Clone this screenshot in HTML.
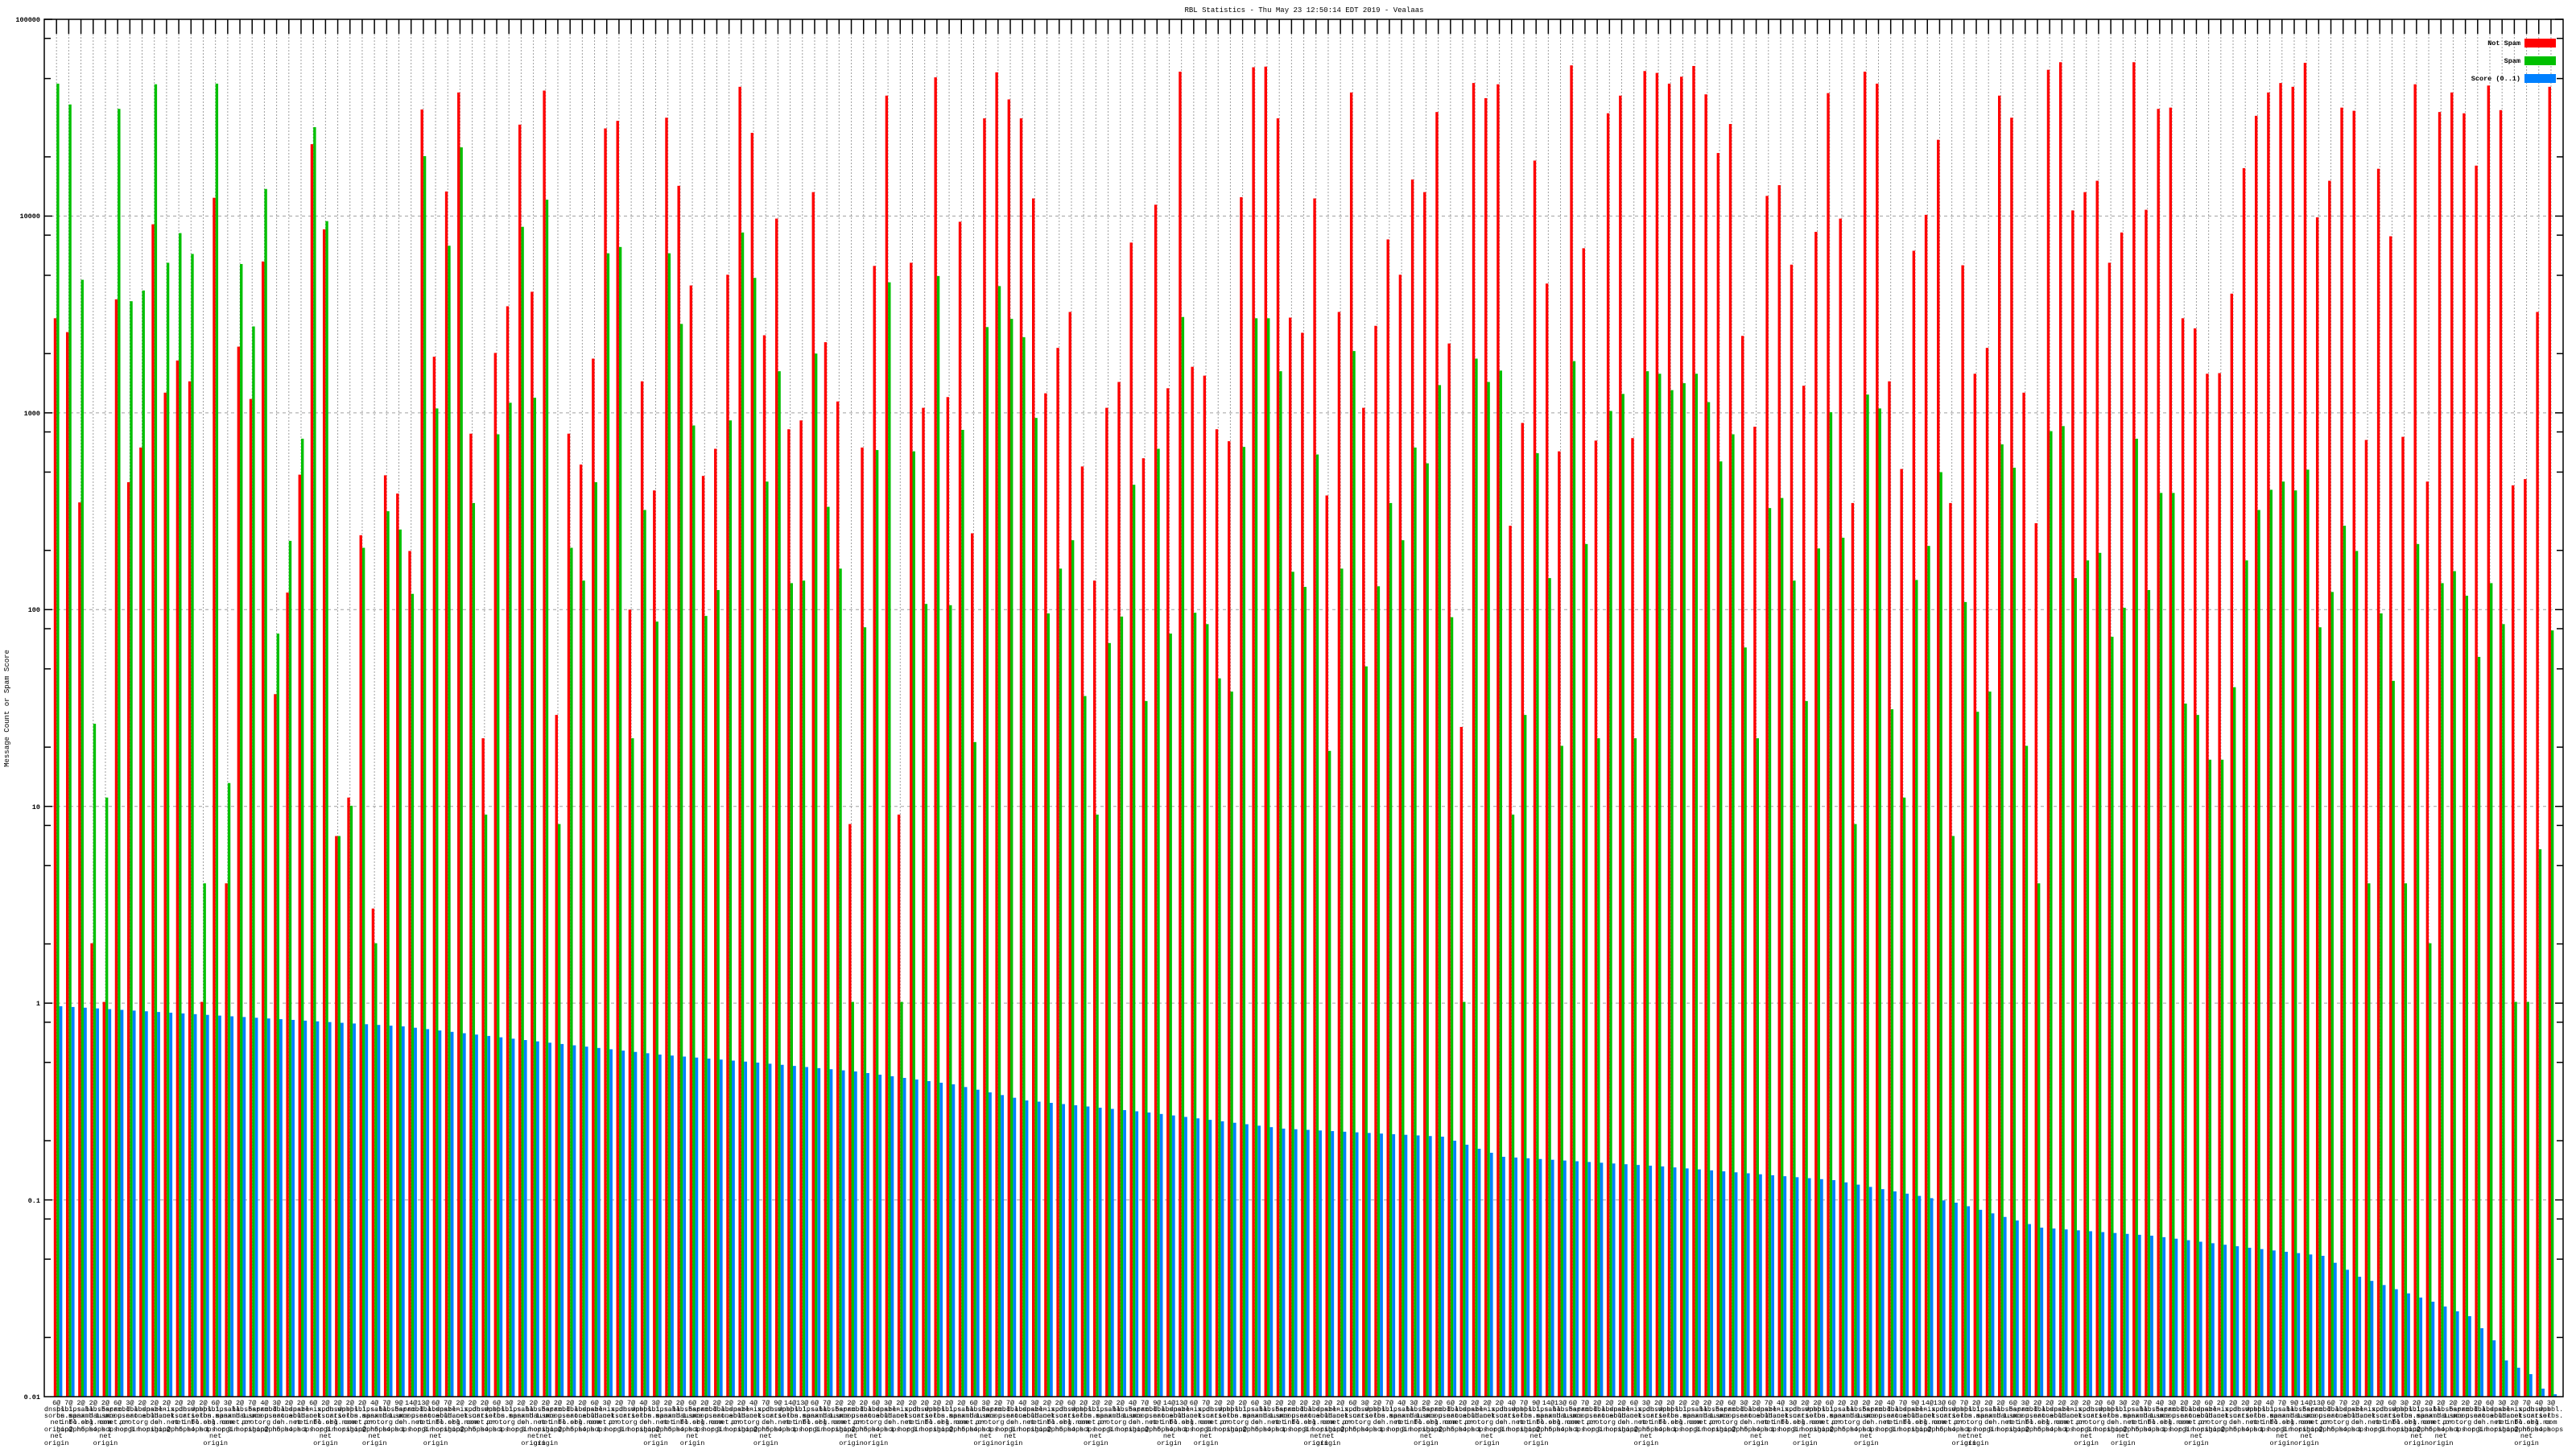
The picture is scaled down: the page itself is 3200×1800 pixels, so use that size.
<!DOCTYPE html>
<html><head><meta charset="utf-8">
<style>html,body{margin:0;padding:0;background:#fff;}svg{display:block;}</style>
</head><body>
<svg id="c" xmlns="http://www.w3.org/2000/svg" width="3200" height="1800" viewBox="0 0 3200 1800">
<rect x="0" y="0" width="3200" height="1800" fill="#fff"/>
<g id="grid"></g>
<g id="bars"></g>
<g id="ticks" stroke="#000" stroke-width="1.5"></g>
<rect x="55" y="24" width="3129" height="1711" fill="none" stroke="#000" stroke-width="1.5"/>
<text x="1620" y="15" font-family="Liberation Mono, monospace" font-size="9" text-anchor="middle" fill="#000">RBL Statistics - Thu May 23 12:50:14 EDT 2019 - Vealaas</text>
<text transform="translate(11,880) rotate(-90)" font-family="Liberation Mono, monospace" font-size="9" text-anchor="middle" fill="#000">Message Count or Spam Score</text>
<g font-family="Liberation Mono, monospace" font-size="8.5" font-weight="bold" text-anchor="end" fill="#000">
<text x="50" y="27">100000</text>
<text x="50" y="271">10000</text>
<text x="50" y="516">1000</text>
<text x="50" y="760">100</text>
<text x="50" y="1005">10</text>
<text x="50" y="1249">1</text>
<text x="50" y="1494">0.1</text>
<text x="50" y="1738">0.01</text>
<text x="3131" y="56">Not Spam</text>
<text x="3131" y="78">Spam</text>
<text x="3131" y="100">Score (0..1)</text>
</g>
<rect x="3136" y="48" width="39" height="11" fill="#ff0000"/>
<rect x="3136" y="70" width="39" height="11" fill="#00c000"/>
<rect x="3136" y="92" width="39" height="11" fill="#0080ff"/>
<g id="xl" font-family="Liberation Mono, monospace" font-size="8.5" text-anchor="middle" fill="#000"></g>
</svg>
<script>
var R=[474,496,766,1465,1558,444,734,679,325,592,541,574,1558,283,1370,519,602,384,1070,909,722,198,333,1295,1234,818,1410,723,752,843,
143,535,273,116,657,1140,529,455,167,432,113,1103,657,706,538,173,161,936,574,747,156,264,422,724,681,405,107,180,501,316,
650,636,274,512,606,1276,679,391,121,1261,386,616,92,599,321,815,157,84,127,157,284,593,521,464,709,890,616,575,354,696,
294,585,83,551,565,650,669,282,76,75,157,473,497,284,755,464,116,616,486,349,405,254,274,147,514,1122,101,125,103,803,
640,224,419,685,73,363,668,149,121,664,82,85,102,91,74,119,212,166,502,646,280,263,389,581,337,117,316,767,83,102,
574,713,367,310,191,767,390,562,521,121,156,592,799,80,68,303,274,256,386,338,68,302,142,140,474,490,562,561,435,236,
153,116,101,107,69,314,256,140,145,667,237,344,662,103,733,147,116,149,232,105,144,739,729,464,107];
var G=[102,135,413,1117,1234,142,447,430,103,386,339,372,1370,102,1211,388,487,269,974,827,665,171,320,1295,1247,838,1465,780,809,911,
217,617,359,203,767,1261,658,608,329,600,286,1276,838,890,734,371,361,1140,778,955,371,483,644,946,905,636,338,410,733,558,
894,890,530,773,871,1558,964,683,417,1558,685,927,407,929,651,1146,488,423,475,504,632,942,871,826,1073,1261,989,947,738,1081,
681,974,472,941,959,1045,1066,678,474,474,558,876,900,690,1160,871,526,1026,899,767,826,679,704,580,948,1558,538,575,557,1261,
1103,688,886,1152,542,832,1140,621,594,1140,558,562,588,577,562,607,701,658,996,1140,775,759,890,1081,839,623,822,1276,595,617,
1094,1234,889,835,718,1295,924,1098,1066,674,711,1152,1370,653,645,886,858,846,979,933,665,905,751,751,1085,1103,1174,1174,1059,858,
778,746,733,747,714,964,908,803,843,1370,942,1049,1370,832,1465,894,875,914,1011,894,959,1558,1558,1316,969];
var BA=[[0,1250],[28,1275],[38,1292],[49,1310],[57,1320],[65,1331],[73,1347],[79,1367],[89,1382],[100,1402],[113,1412],[118,1437],[131,1449],[145,1466],[155,1494],[162,1525],[171,1535],[179,1550],[185,1560],[188,1586],[194,1617],[197,1635],[199,1665],[200,1690],[201,1699],[202,1707],[203,1725],[204,1732]];
function blue(i){for(var k=0;k<BA.length-1;k++){var a=BA[k],b=BA[k+1];if(i>=a[0]&&i<=b[0]){return a[1]+(b[1]-a[1])*(i-a[0])/(b[0]-a[0]);}}return 1732;}
var NS="http://www.w3.org/2000/svg";
function el(p,t,at,txt){var e=document.createElementNS(NS,t);for(var k in at)e.setAttribute(k,at[k]);if(txt!=null)e.textContent=txt;p.appendChild(e);return e;}
var grid=document.getElementById('grid'),bars=document.getElementById('bars'),ticks=document.getElementById('ticks'),xl=document.getElementById('xl');
var B=1735,dec=244.43;
for(var d=1;d<=6;d++){var y=24+d*dec;el(grid,'line',{x1:55,x2:3184,y1:y,y2:y,stroke:'#a0a0a0','stroke-width':1,'stroke-dasharray':'4,4'});}
for(var d=0;d<7;d++){var y0=24+d*dec;
 el(ticks,'line',{x1:55,x2:65,y1:y0,y2:y0});el(ticks,'line',{x1:3174,x2:3184,y1:y0,y2:y0});
 [2,5,8].forEach(function(m){var y=24+(d+1-Math.log10(m))*dec;if(y<B){el(ticks,'line',{x1:55,x2:63,y1:y,y2:y});el(ticks,'line',{x1:3176,x2:3184,y1:y,y2:y});}});}
var nums=[6,7,2,2,2,6,3,2,2,2,2,2,2,6,3,2,7,4,3,2,2,6,2,2,2,2,4,7,9,14,13];
var w1=['dnsbl.','bl.spa','ips.ba','zen.sp','b.barr','db.wpb','cbl.ab','psbl.s','dnsbl-','all.s5','ix.dns','spam.d'];
var w2=['sorbs.','mcop.n','ckscat','amhaus','acudac','on.spa','useat.','urriel','1.uce','h.net.','manx.d','ronebl'];
var w3=['net','org','com','info','de','net.or','bl.org','sh.net','prot.','sbl.ne'];
var w4=['origin','1 hop','2 hops','3 hops','4 hops','hop@ph','orgin','5 hops'];
for(var i=0;i<205;i++){
 var cx=55+15.19*(i+1);
 el(grid,'line',{x1:cx,x2:cx,y1:42,y2:B,stroke:'#a0a0a0','stroke-width':1,'stroke-dasharray':'2,2'});
 el(ticks,'line',{x1:cx,x2:cx,y1:24,y2:42});
 var yr=24+R[i]*0.78343,yg=24+G[i]*0.78343,yb=blue(i);
 el(bars,'rect',{x:cx-3.4,y:yr,width:3.4,height:B-yr,fill:'#ff0000'});
 el(bars,'rect',{x:cx,y:yg,width:3.4,height:B-yg,fill:'#00c000'});
 el(bars,'rect',{x:cx+3.4,y:yb,width:3.8,height:B-yb,fill:'#0080ff'});
 el(xl,'text',{x:cx,y:1745},nums[i%nums.length]+'@');
 el(xl,'text',{x:cx,y:1753},w1[(i*7)%w1.length]);
 el(xl,'text',{x:cx,y:1761},w2[(i*5)%w2.length]);
 el(xl,'text',{x:cx,y:1769},w3[(i*3)%w3.length]);
 el(xl,'text',{x:cx,y:1778},w4[(i*5)%w4.length]);
 if(i%9==4||i%13==0){el(xl,'text',{x:cx,y:1786},'net');el(xl,'text',{x:cx,y:1795},'origin');}
}
</script>
</body></html>
